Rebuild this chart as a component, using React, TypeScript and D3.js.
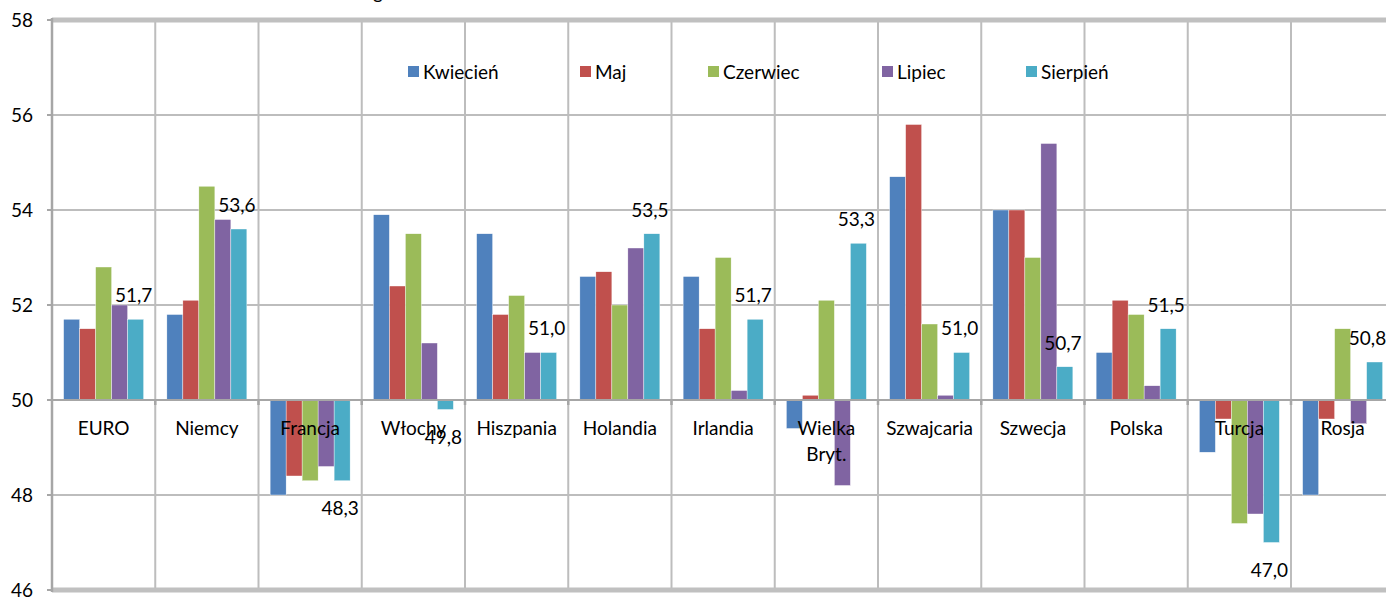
import React from "react";
import * as d3 from "d3";

const categories = ["EURO", "Niemcy", "Francja", "Włochy", "Hiszpania", "Holandia", "Irlandia", "Wielka Bryt.", "Szwajcaria", "Szwecja", "Polska", "Turcja", "Rosja"];
const seriesNames = ["Kwiecień", "Maj", "Czerwiec", "Lipiec", "Sierpień"];
const seriesColors = ["#4F81BD", "#C0504D", "#9BBB59", "#8064A2", "#4BACC6"];
const kwiecien = [51.7, 51.8, 48.0, 53.9, 53.5, 52.6, 52.6, 49.4, 54.7, 54.0, 51.0, 48.9, 48.0];
const maj = [51.5, 52.1, 48.4, 52.4, 51.8, 52.7, 51.5, 50.1, 55.8, 54.0, 52.1, 49.6, 49.6];
const czerwiec = [52.8, 54.5, 48.3, 53.5, 52.2, 52.0, 53.0, 52.1, 51.6, 53.0, 51.8, 47.4, 51.5];
const lipiec = [52.0, 53.8, 48.6, 51.2, 51.0, 53.2, 50.2, 48.2, 50.1, 55.4, 50.3, 47.6, 49.5];
const sierpien = [51.7, 53.6, 48.3, 49.8, 51.0, 53.5, 51.7, 53.3, 51.0, 50.7, 51.5, 47.0, 50.8];
const seriesValues = [kwiecien, maj, czerwiec, lipiec, sierpien];
const yTicks = [46, 48, 50, 52, 54, 56, 58];
const labeledSeries = 4;

// layout
const W = 1386;
const H = 601;
const plotLeft = 52;
const plotRight = 52 + 13 * 103.25;
const plotTop = 20;
const plotBottom = 590;
const legendX = [408, 580, 708, 882, 1026];
const legendY = 72;
const FONT = "Lato, 'Open Sans', sans-serif";
const FS = 19;

export default function App() {
  const y = d3.scaleLinear().domain([46, 58]).range([plotBottom, plotTop]);
  const x0 = d3.scaleBand<string>().domain(categories).range([plotLeft, plotRight]).paddingInner(0).paddingOuter(0);
  const x1 = d3.scaleBand<string>().domain(seriesNames).range([0, x0.bandwidth()]).paddingInner(0).paddingOuter(0.727);
  const base = y(50);
  const gridColor = "#BDBDBD";
  const capHalf = FS * 0.36;

  return (
    <svg width={W} height={H} style={{ position: "absolute", left: 0, top: 0, background: "#fff" }} fontFamily={FONT}>
      <rect x={0} y={0} width={W} height={H} fill="#fff" />
      <text x={383} y={-1} fontSize={FS} textAnchor="end" fill="#000">g</text>
      {/* horizontal gridlines */}
      {yTicks.filter((t) => t !== 46 && t !== 58).map((t) => (
        <line key={"h" + t} x1={plotLeft} x2={plotRight} y1={y(t)} y2={y(t)} stroke={gridColor} strokeWidth={2} />
      ))}
      {/* vertical gridlines */}
      {categories.map((c, i) => (
        <line key={"v" + c} x1={(x0(c) as number) + x0.bandwidth()} x2={(x0(c) as number) + x0.bandwidth()} y1={plotTop} y2={plotBottom} stroke={gridColor} strokeWidth={2} />
      ))}
      {/* borders */}
      <line x1={plotLeft} x2={W} y1={plotTop} y2={plotTop} stroke="#C0C0C0" strokeWidth={5} />
      <line x1={plotLeft} x2={W} y1={plotBottom} y2={plotBottom} stroke="#C0C0C0" strokeWidth={5} />
      {/* bars */}
      {seriesValues.map((vals, si) =>
        vals.map((v, ci) => {
          const cx = (x0(categories[ci]) as number) + (x1(seriesNames[si]) as number);
          const yy = y(v);
          return (
            <rect key={si + "-" + ci} x={cx} y={Math.min(yy, base)} width={x1.bandwidth()} height={Math.abs(yy - base)} fill={seriesColors[si]} stroke="#fff" strokeWidth={0.4} />
          );
        })
      )}
      {/* left axis */}
      <line x1={plotLeft} x2={plotLeft} y1={plotTop - 2} y2={plotBottom + 2} stroke="#A6A6A6" strokeWidth={2.5} />
      {yTicks.map((t) => (
        <g key={"yt" + t}>
          <line x1={plotLeft - 5} x2={plotLeft} y1={y(t)} y2={y(t)} stroke="#A6A6A6" strokeWidth={2} />
          <text x={33} y={y(t) + capHalf} fontSize={FS} textAnchor="end" fill="#000">{t}</text>
        </g>
      ))}
      {/* category axis at 50 */}
      <line x1={plotLeft} x2={plotRight} y1={base} y2={base} stroke="#A6A6A6" strokeWidth={2} />
      {categories.map((c) => (
        <line key={"ct" + c} x1={(x0(c) as number) + x0.bandwidth()} x2={(x0(c) as number) + x0.bandwidth()} y1={base} y2={base + 5} stroke="#A6A6A6" strokeWidth={2.5} />
      ))}
      {categories.map((c) => {
        const cx = (x0(c) as number) + x0.bandwidth() / 2;
        const lines = c === "Wielka Bryt." ? ["Wielka", "Bryt."] : [c];
        return (
          <text key={"cl" + c} x={cx} y={base + 34.5} fontSize={FS} textAnchor="middle" fill="#000">
            {lines.map((l, i) => (
              <tspan key={i} x={cx} dy={i === 0 ? 0 : 26.5}>{l}</tspan>
            ))}
          </text>
        );
      })}
      {/* data labels */}
      {seriesValues[labeledSeries].map((v, ci) => {
        const bx = (x0(categories[ci]) as number) + (x1(seriesNames[labeledSeries]) as number) + x1.bandwidth() / 2 - 2;
        const txt = d3.format(".1f")(v).replace(".", ",");
        const halfW = 18.5;
        const cx = Math.min(bx, W - halfW);
        const capCenter = v >= 50 ? y(v) - 24 : y(v) + 27.5;
        return (
          <text key={"dl" + ci} x={cx} y={capCenter + capHalf} fontSize={FS} textAnchor="middle" fill="#000">{txt}</text>
        );
      })}
      {/* legend */}
      {seriesNames.map((s, i) => (
        <g key={"lg" + s}>
          <rect x={legendX[i]} y={legendY - 6} width={11} height={11} fill={seriesColors[i]} />
          <text x={legendX[i] + 15} y={legendY + capHalf} fontSize={FS} fill="#000">{s}</text>
        </g>
      ))}
    </svg>
  );
}
